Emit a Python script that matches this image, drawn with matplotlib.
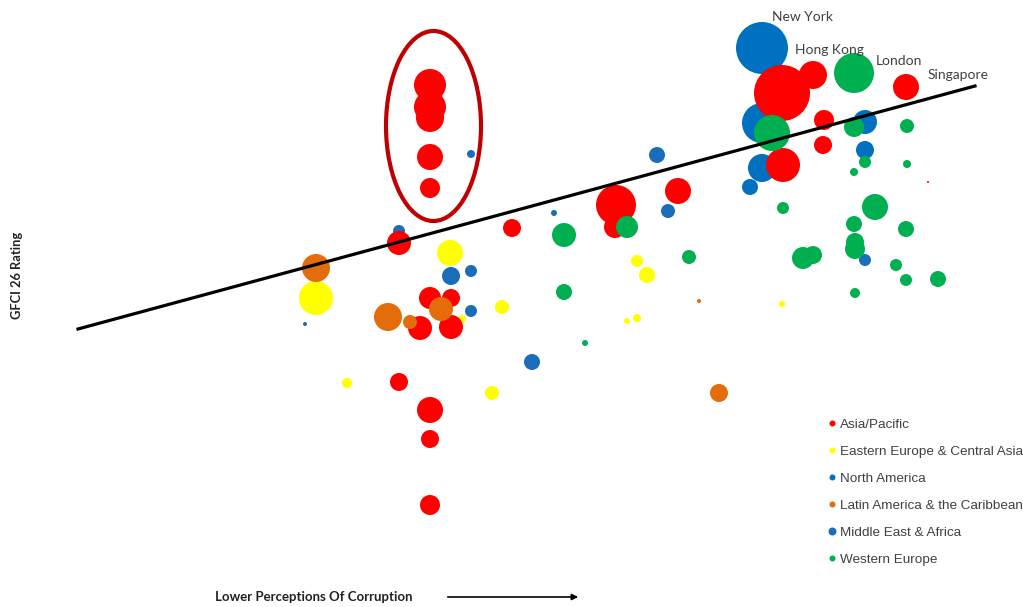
import matplotlib.pyplot as plt
import numpy as np
from matplotlib.patches import Ellipse
from matplotlib.lines import Line2D

# Positions (x = corruption perception, y = GFCI 26 rating,
# both in arbitrary chart units), r = bubble radius
asia_x = [430, 430, 430, 430, 430, 782, 813, 906, 824, 823, 783, 616, 615, 678, 512,
          399, 430, 451, 420, 451, 399, 430, 430, 430, 928]
asia_y = [522, 500, 489, 450, 419, 514, 532, 520, 487, 462, 442, 402, 380, 416, 379,
          364, 309, 309, 279, 280, 225, 197, 168, 102, 425]
asia_r = [16, 16, 14, 13, 10, 28, 14, 13, 10, 9, 17, 20, 11, 13, 9,
          12, 11, 9, 12, 12, 9, 13, 9, 10, 1]

eeca_x = [316, 450, 462, 502, 347, 492, 637, 647, 627, 637, 782]
eeca_y = [309, 354, 288, 300, 224, 214, 346, 332, 286, 289, 303]
eeca_r = [17, 13, 4, 7, 5, 7, 6, 8, 3, 4, 3]

nam_x = [762, 762, 865, 865, 762, 750]
nam_y = [559, 484, 485, 457, 439, 420]
nam_r = [26, 20, 12, 9, 14, 8]

lat_x = [316, 388, 441, 410, 719, 699]
lat_y = [339, 290, 298, 285, 214, 306]
lat_r = [14, 14, 12, 7, 9, 2]

mea_x = [471, 399, 451, 471, 471, 305, 532, 657, 668, 554, 865]
mea_y = [453, 376, 331, 336, 296, 283, 245, 452, 396, 394, 347]
mea_r = [4, 6, 9, 6, 6, 2, 8, 8, 7, 3, 6]

weu_x = [854, 772, 854, 907, 865, 907, 854, 783, 875, 854, 906, 855, 855, 803, 813,
         896, 906, 938, 855, 627, 564, 689, 564, 585]
weu_y = [534, 474, 480, 481, 445, 443, 435, 399, 400, 383, 378, 365, 358, 349, 352,
         342, 327, 328, 314, 380, 372, 350, 315, 264]
weu_r = [20, 18, 10, 7, 6, 4, 4, 6, 13, 8, 8, 9, 10, 11, 9,
         6, 6, 8, 5, 11, 12, 7, 8, 3]

regions = ['Asia/Pacific', 'Eastern Europe & Central Asia', 'North America',
           'Latin America & the Caribbean', 'Middle East & Africa', 'Western Europe']
colors = ['#ff0000', '#ffff00', '#0070c0', '#e46c0a', '#1a6db8', '#00b050']

city_names = ['New York', 'Hong Kong', 'London', 'Singapore']
city_x = [772, 795, 876, 928]
city_y = [590, 557, 546, 532]

trend_x = [78, 975]
trend_y = [278, 521]

fig = plt.figure(figsize=(10.23, 6.07), dpi=100)
ax = fig.add_axes([0, 0, 1, 1])
ax.set_xlim(0, 1023)
ax.set_ylim(0, 607)
ax.axis('off')

def size(r):
    return (2 * np.array(r) * 0.72) ** 2

# draw order chosen so overlaps look like the original
series = [
    (eeca_x, eeca_y, eeca_r, colors[1]),
    (nam_x, nam_y, nam_r, colors[2]),
    (mea_x, mea_y, mea_r, colors[4]),
    (asia_x, asia_y, asia_r, colors[0]),
    (lat_x, lat_y, lat_r, colors[3]),
    (weu_x, weu_y, weu_r, colors[5]),
]
for xs, ys, rs, c in series:
    ax.scatter(xs, ys, s=size(rs), color=c, linewidths=0, zorder=2)

# trend line
ax.plot(trend_x, trend_y, color='black', linewidth=2.3, zorder=3)

# city labels
for name, cx, cy in zip(city_names, city_x, city_y):
    ax.text(cx, cy, name, fontsize=10, family='Lato', color='#404040',
            ha='left', va='center', zorder=4)

# red ellipse round the cluster
ax.add_patch(Ellipse((433.5, 481), 95, 190, fill=False, edgecolor='#c00000',
                     linewidth=3, zorder=4))

# axis labels
ax.text(17, 332, 'GFCI 26 Rating', rotation=90, fontsize=9.3, fontweight='bold',
        family='Lato', ha='center', va='center', color='#222222')
ax.text(215, 10, 'Lower Perceptions Of Corruption', fontsize=9.5, fontweight='bold',
        family='Lato', ha='left', va='center', color='#222222')
ax.annotate('', xy=(581, 10), xytext=(445, 10),
            arrowprops=dict(arrowstyle='-|>', color='black', lw=1.2,
                            mutation_scale=9))

# legend
leg_sizes = [6, 6, 6, 6, 8, 6]
handles = [Line2D([], [], marker='o', linestyle='', color=c, markersize=ms * 0.72,
                  markeredgewidth=0) for c, ms in zip(colors, leg_sizes)]
ax.legend(handles, regions, loc='upper left', bbox_to_anchor=(0.803, 0.322),
          frameon=False, labelspacing=1.08, handlelength=0.6,
          handletextpad=0.3, borderpad=0, labelcolor='#404040',
          prop={'family': 'Liberation Sans', 'size': 9.7})

fig.savefig('out.png', dpi=100, facecolor='white')
